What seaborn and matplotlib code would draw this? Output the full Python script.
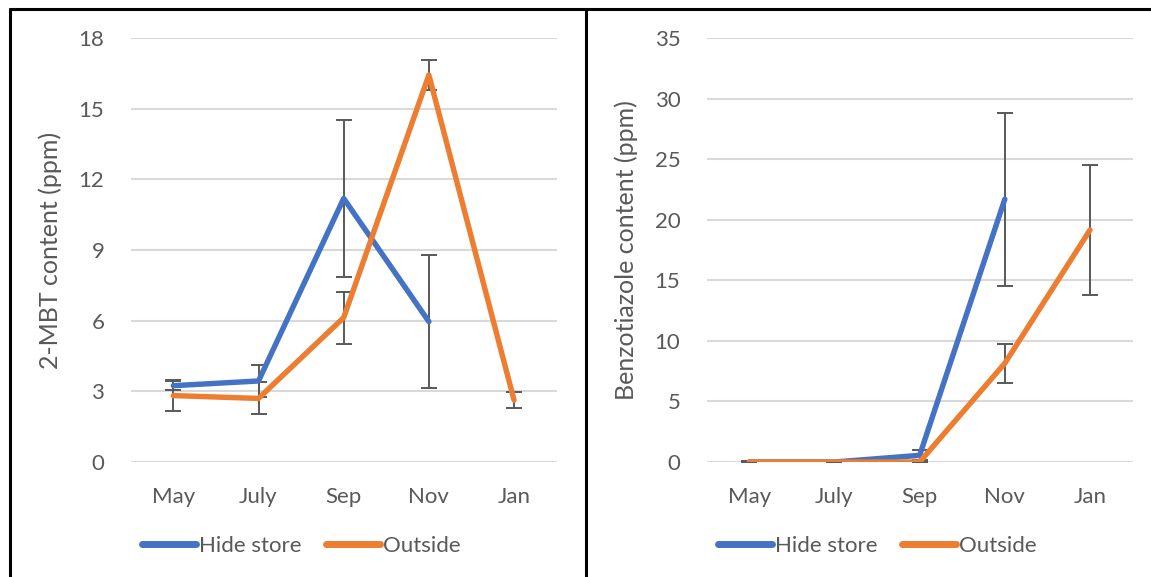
import numpy as np
import pandas as pd
import matplotlib
matplotlib.use("Agg")
import matplotlib.pyplot as plt
from matplotlib.lines import Line2D
import seaborn as sns

# Sampling months
months = ["May", "July", "Sep", "Nov", "Jan"]
sites = ["Hide store", "Outside"]

# 2-MBT content (ppm), mean and error
mbt_hide = [3.24, 3.44, 11.19, 5.96, np.nan]
mbt_hide_err = [0.18, 0.68, 3.32, 2.83, np.nan]
mbt_out = [2.82, 2.70, 6.13, 16.43, 2.63]
mbt_out_err = [0.66, 0.68, 1.10, 0.62, 0.33]

# Benzotiazole content (ppm), mean and error
bz_hide = [0.0, 0.0, 0.55, 21.7, np.nan]
bz_hide_err = [0.05, 0.0, 0.40, 7.15, np.nan]
bz_out = [0.0, 0.0, 0.0, 8.15, 19.15]
bz_out_err = [0.0, 0.0, 0.0, 1.63, 5.33]

y_labels = ["2-MBT content (ppm)", "Benzotiazole content (ppm)"]
y_ticks = [np.arange(0, 19, 3), np.arange(0, 36, 5)]

colors = {"Hide store": "#4472C4", "Outside": "#ED7D31"}
text_color = "#595959"
grid_color = "#D9D9D9"

sns.set_theme(style="white")
plt.rcParams["font.family"] = ["Lato", "DejaVu Sans"]
plt.rcParams["text.color"] = text_color

fig = plt.figure(figsize=(11.51, 5.77), dpi=100)
ax1 = fig.add_axes([0.1136, 0.1993, 0.370, 0.7348])
ax2 = fig.add_axes([0.6140, 0.1993, 0.370, 0.7348])

panels = [
    (ax1, mbt_hide, mbt_hide_err, mbt_out, mbt_out_err),
    (ax2, bz_hide, bz_hide_err, bz_out, bz_out_err),
]

pos = np.arange(len(months))
fs = 16
fs_label = 18

for i, (ax, h, he, o, oe) in enumerate(panels):
    df = pd.DataFrame({
        "pos": np.concatenate([pos, pos]),
        "value": np.concatenate([h, o]),
        "site": [sites[0]] * len(months) + [sites[1]] * len(months),
    })
    # error bars sit underneath the series lines
    for vals, errs in ((h, he), (o, oe)):
        ax.errorbar(pos, vals, yerr=errs, fmt="none", ecolor="#595959",
                    elinewidth=1.4, capsize=5.5, capthick=1.4, zorder=2)
    sns.lineplot(data=df.dropna(), x="pos", y="value", hue="site",
                 hue_order=sites, palette=colors, linewidth=3.9,
                 sort=False, ax=ax, zorder=3, legend=True)
    for ln in ax.get_lines():
        ln.set_solid_capstyle("round")
        ln.set_solid_joinstyle("round")

    ax.set_xlim(-0.5, len(months) - 0.5)
    ax.set_ylim(y_ticks[i][0], y_ticks[i][-1])
    ax.set_yticks(y_ticks[i])
    ax.set_xticks(pos)
    ax.set_xticklabels(months)
    ax.set_xlabel("")
    ax.set_ylabel(y_labels[i], fontsize=fs_label, color=text_color, labelpad=12)
    ax.tick_params(axis="both", length=0, labelsize=fs, colors=text_color)
    ax.tick_params(axis="y", pad=19)
    ax.tick_params(axis="x", pad=18)
    ax.grid(axis="y", color=grid_color, linewidth=1.5)
    ax.grid(axis="x", visible=False)
    ax.set_axisbelow(True)
    for s in ax.spines.values():
        s.set_visible(False)
    ax.patch.set_alpha(0)

    handles, labels = ax.get_legend_handles_labels()
    for hd in handles:
        hd.set_linewidth(5)
        hd.set_solid_capstyle("round")
    ax.legend(handles, labels, loc="center", bbox_to_anchor=(0.40, -0.198),
              ncol=2, frameon=False, fontsize=fs, handlelength=2.45,
              handletextpad=0.12, columnspacing=1.1, labelcolor=text_color)

# surrounding frame lines
W, H = 1151, 577
frame = dict(color="black", linewidth=2.2, transform=fig.transFigure)
fig.add_artist(Line2D([9.5 / W, 1], [1 - 8.5 / H, 1 - 8.5 / H], **frame))
fig.add_artist(Line2D([10 / W, 10 / W], [0, 1 - 8.5 / H], **frame))
fig.add_artist(Line2D([586 / W, 586 / W], [0, 1 - 8.5 / H], **frame))

fig.savefig("out.png", dpi=100, facecolor="white")
